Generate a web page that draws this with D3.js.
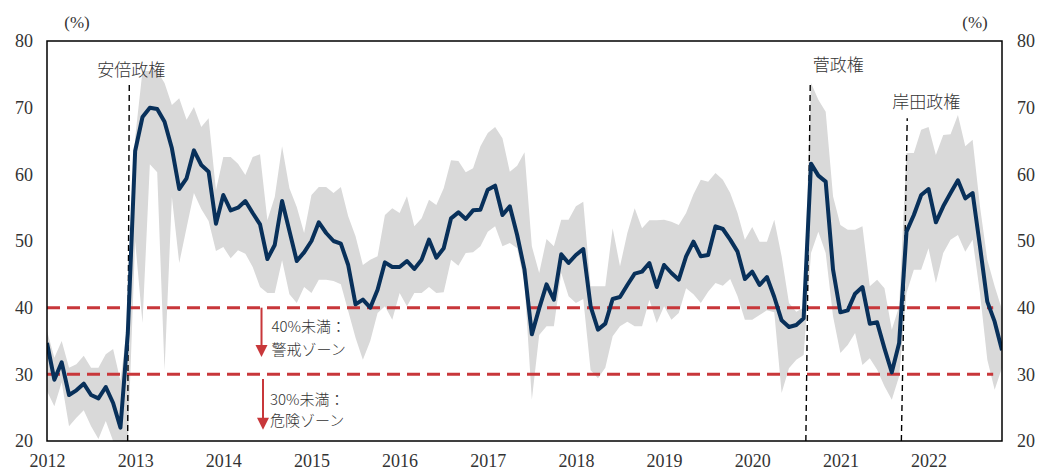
<!DOCTYPE html>
<html>
<head>
<meta charset="utf-8">
<style>
  body { margin: 0; background: #fff; }
  svg { display: block; }
  .axis .domain { display: none; }
  .axis .tick line { display: none; }
  .jp { font-family: 'Noto Sans CJK JP', sans-serif; fill: #333; font-weight: 300; }
</style>
</head>
<body>
<svg width="1037" height="471"></svg>
<script src="https://d3js.org/d3.v7.min.js"></script>
<script>
// monthly, Jan 2012 .. Nov 2022 (index 0 = 2012-01)
const approval = [
  34.7, 29.2, 31.8, 26.9, 27.6, 28.6, 26.9, 26.4, 28.1, 25.7, 22.0, 36.2,
  63.5, 68.6, 70.0, 69.8, 67.9, 63.9, 57.8, 59.4, 63.6, 61.4, 60.4, 52.6,
  56.9, 54.6, 55.0, 56.0, 54.2, 52.5, 47.3, 49.4, 56.0, 51.5, 47.0, 48.3,
  50.0, 52.8, 51.2, 50.0, 49.6, 46.4, 40.5, 41.2, 40.0, 42.7, 46.8, 46.1,
  46.1, 47.0, 45.8, 47.2, 50.2, 47.5, 48.9, 53.4, 54.3, 53.3, 54.6, 54.7,
  57.7, 58.3, 53.9, 55.2, 50.9, 45.7, 36.0, 39.9, 43.5, 41.2, 48.0, 46.7,
  47.9, 48.8, 40.2, 36.7, 37.6, 41.3, 41.6, 43.4, 45.1, 45.4, 46.7, 43.1,
  46.4, 45.2, 44.2, 47.7, 49.9, 47.7, 47.9, 52.2, 51.8, 50.2, 48.4, 44.3,
  45.4, 43.4, 44.6, 41.6, 38.1, 37.1, 37.4, 38.4, 61.6, 59.8, 58.9, 45.7,
  39.3, 39.6, 42.1, 43.1, 37.6, 37.8, 33.9, 30.3, 34.7, 51.4, 53.9, 56.9,
  57.8, 52.8, 55.2, 57.2, 59.1, 56.4, 57.2, 49.2, 40.9, 37.9, 33.6
];
const upper = [
  36.5, 32.5, 35.0, 31.0, 31.5, 32.8, 31.0, 31.0, 33.0, 33.8, 29.0, 38.0,
  65.5, 75.5, 75.5, 75.5, 73.7, 70.4, 71.4, 68.2, 70.1, 67.1, 68.4, 57.6,
  62.6, 62.6, 61.6, 59.9, 62.6, 63.0, 53.1, 56.6, 64.2, 57.9, 55.1, 51.2,
  56.9, 58.1, 58.1, 57.2, 58.1, 53.7, 50.7, 46.4, 47.2, 47.7, 53.9, 54.9,
  54.2, 56.7, 52.2, 53.4, 56.2, 55.4, 57.9, 62.1, 62.0, 60.3, 60.9, 64.2,
  66.2, 67.1, 65.4, 60.4, 61.3, 63.3, 49.2, 45.2, 50.3, 49.2, 53.2, 53.2,
  55.2, 55.9, 43.2, 43.2, 43.2, 51.9, 46.2, 51.2, 54.9, 51.9, 53.1, 53.1,
  53.2, 52.9, 52.4, 54.2, 57.0, 59.2, 58.9, 60.2, 59.2, 57.2, 54.2, 50.2,
  52.1, 49.9, 49.9, 53.2, 47.7, 40.7, 39.4, 40.0, 73.7, 71.2, 69.4, 56.7,
  52.4, 51.7, 51.7, 52.2, 43.2, 44.2, 42.9, 36.7, 40.2, 63.2, 63.2, 66.7,
  67.1, 62.9, 65.9, 66.0, 68.9, 64.2, 65.2, 55.2, 47.2, 43.2, 39.7
];
const lower = [
  27.5, 25.2, 28.8, 22.2, 23.5, 24.6, 22.2, 20.3, 23.0, 20.0, 19.5, 19.5,
  50.0, 37.7, 61.5, 60.3, 30.6, 56.6, 46.7, 52.0, 57.2, 54.8, 53.0, 48.5,
  49.1, 47.4, 48.6, 48.1, 46.1, 43.1, 42.2, 42.2, 47.1, 42.0, 40.7, 43.1,
  42.2, 44.2, 44.2, 44.0, 43.5, 39.5, 35.5, 32.2, 35.0, 39.2, 40.2, 38.2,
  42.2, 40.2, 42.2, 42.2, 43.1, 42.2, 42.3, 47.2, 46.3, 48.2, 48.3, 49.2,
  51.4, 52.2, 49.2, 49.7, 48.9, 43.7, 26.2, 35.9, 37.2, 37.2, 45.2, 41.7,
  40.7, 41.3, 30.6, 29.4, 31.0, 35.7, 37.2, 37.9, 37.2, 37.2, 41.2, 37.7,
  40.2, 38.2, 39.2, 42.9, 42.0, 40.7, 42.4, 43.7, 43.3, 44.3, 41.7, 38.2,
  38.2, 38.9, 39.6, 39.3, 27.2, 30.9, 32.2, 32.9, 48.2, 51.4, 48.2, 38.7,
  33.2, 34.4, 36.2, 31.4, 32.4, 30.7, 28.2, 26.2, 29.7, 42.2, 45.7, 45.7,
  48.9, 43.7, 48.2, 50.2, 50.9, 48.4, 50.2, 42.2, 32.2, 27.7, 31.0
];
const years = ["2012", "2013", "2014", "2015", "2016", "2017", "2018", "2019", "2020", "2021", "2022"];
const yTicks = [20, 30, 40, 50, 60, 70, 80];
const thresholds = [40, 30];
const zoneText = [["40%未満：", "警戒ゾーン"], ["30%未満：", "危険ゾーン"]];
// cabinet start: month index at bottom / top of the marker, value at its top
const cabinets = ["安倍政権", "菅政権", "岸田政権"];
const cabinetMonth = [[10.98, 11.2], [103.3, 103.9], [116.3, 117.1]];
const cabinetTop = [73.5, 73.9, 68.4];

const serif = "'Liberation Serif', 'DejaVu Serif', serif";

const svg = d3.select("svg");
const margin = { top: 41, right: 35, bottom: 30, left: 47 };
const W = 1037, H = 471;

const x = d3.scaleLinear().domain([0, approval.length - 1]).range([margin.left, W - margin.right]);
const y = d3.scaleLinear().domain([20, 80]).range([H - margin.bottom, margin.top]);

svg.append("clipPath").attr("id", "plot")
  .append("rect")
  .attr("x", x(0)).attr("y", y(80))
  .attr("width", x.range()[1] - x(0)).attr("height", y(20) - y(80));

const data = approval.map((v, i) => ({ i, v, lo: lower[i], hi: upper[i] }));

// min-max band
svg.append("path")
  .datum(data)
  .attr("clip-path", "url(#plot)")
  .attr("fill", "#d9d9d9")
  .attr("d", d3.area().x(d => x(d.i)).y0(d => y(d.lo)).y1(d => y(d.hi)));

// thresholds
svg.selectAll(".thr")
  .data(thresholds)
  .join("line")
  .attr("x1", x(0)).attr("x2", x(128.8))
  .attr("y1", d => y(d)).attr("y2", d => y(d))
  .attr("stroke", "#c8373a")
  .attr("stroke-width", 3)
  .attr("stroke-dasharray", "13,7");

// arrows
const arrowX = x(29.2);
const arrows = [[40, 32.6], [29.3, 21.7]];
arrows.forEach(([a, b], k) => {
  const ax = arrowX + k * 1.5;
  svg.append("line")
    .attr("x1", ax).attr("x2", ax)
    .attr("y1", y(a)).attr("y2", y(b) - 10)
    .attr("stroke", "#c8373a").attr("stroke-width", 2);
  svg.append("path")
    .attr("fill", "#c8373a")
    .attr("d", `M${ax - 6},${y(b) - 12}L${ax + 6},${y(b) - 12}L${ax},${y(b)}Z`);
});

const zoneY = [[36.35, 32.9], [25.4, 22.25]];
zoneText.forEach((lines, k) => {
  lines.forEach((t, j) => {
    svg.append("text")
      .attr("class", "jp")
      .attr("x", x(30.55) - k * 1.5)
      .attr("y", y(zoneY[k][j]))
      .style("font-size", "15px")
      .text(t);
  });
});

// cabinet markers
cabinets.forEach((name, k) => {
  const [m0, m1] = cabinetMonth[k];
  svg.append("line")
    .attr("x1", x(m0)).attr("y1", y(20))
    .attr("x2", x(m1)).attr("y2", y(cabinetTop[k]))
    .attr("stroke", "#000")
    .attr("stroke-width", 1.4)
    .attr("stroke-dasharray", "6,4");
});
const labelDx = [2, 28, 19];
const labelVal = [74.75, 75.5, 69.95];
cabinets.forEach((name, k) => {
  svg.append("text")
    .attr("class", "jp")
    .attr("x", x(cabinetMonth[k][1]) + labelDx[k])
    .attr("y", y(labelVal[k]))
    .attr("text-anchor", "middle")
    .style("font-size", "17px")
    .text(name);
});

// line
svg.append("path")
  .datum(data)
  .attr("clip-path", "url(#plot)")
  .attr("fill", "none")
  .attr("stroke", "#08305a")
  .attr("stroke-width", 4)
  .attr("stroke-linejoin", "round")
  .attr("d", d3.line().x(d => x(d.i)).y(d => y(d.v)));

// frame
svg.append("rect")
  .attr("x", x(0)).attr("y", y(80))
  .attr("width", x.range()[1] - x(0)).attr("height", y(20) - y(80))
  .attr("fill", "none").attr("stroke", "#000").attr("stroke-width", 1.5);

// axes
const styleTicks = g => g.selectAll("text")
  .style("font-family", serif)
  .style("font-size", "18px")
  .style("fill", "#333");

svg.append("g").attr("class", "axis")
  .attr("transform", `translate(${x(0)},0)`)
  .call(d3.axisLeft(y).tickValues(yTicks).tickSize(0).tickPadding(14))
  .call(styleTicks);
svg.append("g").attr("class", "axis")
  .attr("transform", `translate(${x.range()[1]},0)`)
  .call(d3.axisRight(y).tickValues(yTicks).tickSize(0).tickPadding(15))
  .call(styleTicks);
svg.append("g").attr("class", "axis")
  .attr("transform", `translate(0,${y(20)})`)
  .call(d3.axisBottom(x).tickValues(years.map((d, i) => i * 12)).tickFormat((d, i) => years[i]).tickSize(0).tickPadding(13))
  .call(styleTicks);

svg.selectAll(".unit")
  .data([x(0) + 30, x.range()[1] - 27])
  .join("text")
  .attr("class", "unit")
  .attr("x", d => d).attr("y", 28)
  .attr("text-anchor", "middle")
  .style("font-family", serif)
  .style("font-size", "17px")
  .style("fill", "#333")
  .text("(%)");
</script>
</body>
</html>
